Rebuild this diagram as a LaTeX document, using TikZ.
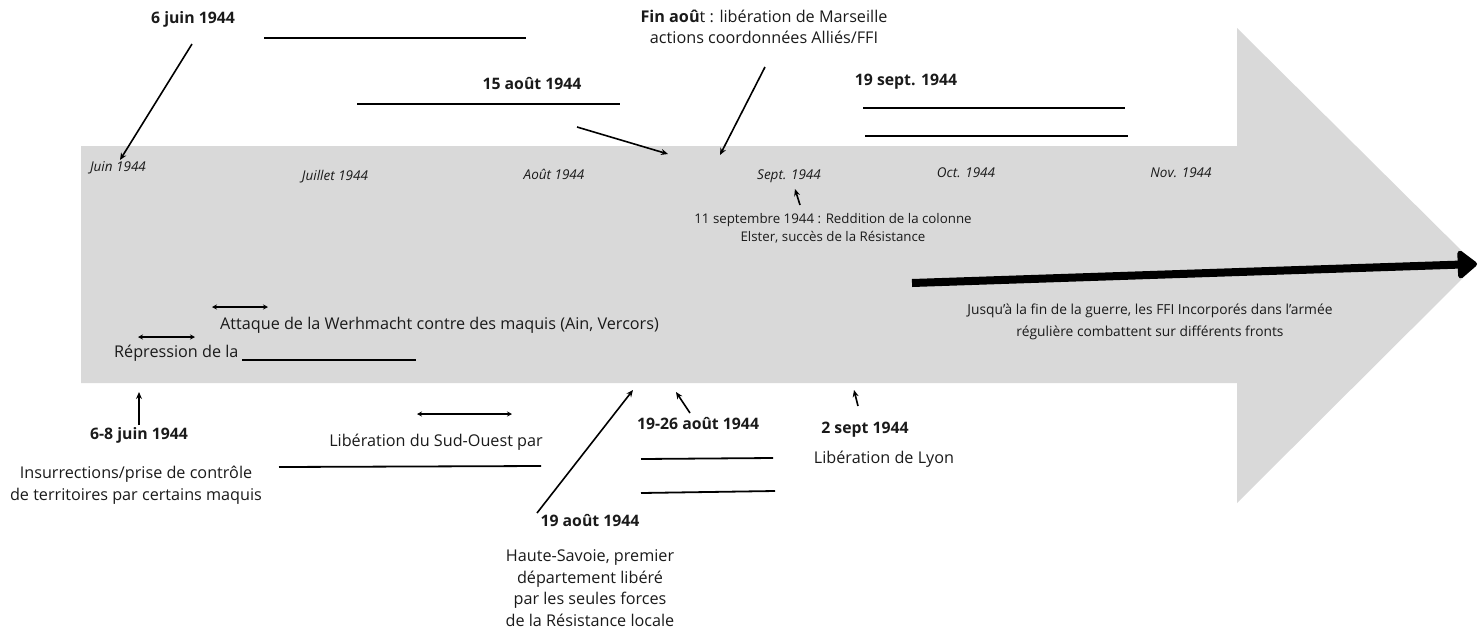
\documentclass[tikz,border=0pt]{standalone}
\usepackage{fontspec}
\setmainfont{Open Sans}
\usetikzlibrary{arrows.meta}
\definecolor{band}{HTML}{D9D9D9}
\definecolor{ink}{HTML}{1A1A1A}
\begin{document}
\begin{tikzpicture}[x=1pt,y=-1pt,
  txt/.style={font=\fontsize{16.2}{21.5}\selectfont, text=ink, inner sep=0pt, align=center},
  wide/.style={font=\fontsize{13.8}{22}\selectfont, text=ink, inner sep=0pt, align=center},
  bld/.style={font=\fontsize{15.8}{21}\selectfont\bfseries, text=ink, inner sep=0pt, align=center},
  mon/.style={font=\fontsize{13.5}{15}\selectfont\itshape, text=ink, inner sep=0pt},
  small/.style={font=\fontsize{13.3}{18}\selectfont, text=ink, inner sep=0pt, align=center},
  blank/.style={line width=1.8pt, draw=black},
  arr/.style={-{Stealth[length=7pt,width=6pt]}, line width=1.6pt, draw=black},
  dbl/.style={{Stealth[length=5pt,width=5pt]}-{Stealth[length=5pt,width=5pt]}, line width=1.4pt, draw=black}]
\useasboundingbox (0,0) rectangle (1484,630);
% big arrow
\coordinate (b1) at (81,146);
\coordinate (b2) at (1237,146);
\coordinate (b3) at (1237,28);
\coordinate (b4) at (1476,265);
\coordinate (b5) at (1237,503);
\coordinate (b6) at (1237,383);
\coordinate (b7) at (81,383);
\fill[band] (b1) -- (b2) -- (b3) -- (b4) -- (b5) -- (b6) -- (b7) -- cycle;

% months
\node[mon] (mjuin) at (118,168) {Juin 1944};
\node[mon] (mjuil) at (335,177) {Juillet 1944};
\node[mon] (maout) at (554,174) {Août 1944};
\node[mon] (msept) at (789,176) {Sept. 1944};
\node[mon] (moct) at (966,173) {Oct. 1944};
\node[mon] (mnov) at (1181,173) {Nov. 1944};

% top labels
\node[bld] (n6juin) at (193,19) {6 juin 1944};
\coordinate (t6juin) at (192,44);
\coordinate (h6juin) at (120,160);
\draw[arr] (t6juin) -- (h6juin);
\coordinate (l1a) at (264,38); \coordinate (l1b) at (526,38);
\draw[blank] (l1a) -- (l1b);

\node[bld] (n15) at (532,84) {15 août 1944};
\coordinate (l2a) at (357,104); \coordinate (l2b) at (620,104);
\draw[blank] (l2a) -- (l2b);
\coordinate (t15) at (577,127); \coordinate (h15) at (668,154);
\draw[arr] (t15) -- (h15);

\node[txt] (nfin) at (764,27) {{\bfseries Fin aoû}t : libération de Marseille\\actions coordonnées Alliés/FFI};
\coordinate (tfin) at (765,67); \coordinate (hfin) at (720,155);
\draw[arr] (tfin) -- (hfin);

\node[bld] (n19s) at (906,82) {19 sept. 1944};
\coordinate (l3a) at (863,108); \coordinate (l3b) at (1125,108);
\coordinate (l4a) at (865,136); \coordinate (l4b) at (1128,136);
\draw[blank] (l3a) -- (l3b);
\draw[blank] (l4a) -- (l4b);

% inside band
\node[small] (n11) at (833,228) {11 septembre 1944 : Reddition de la colonne\\Elster, succès de la Résistance};
\coordinate (t11) at (800,205); \coordinate (h11) at (795,189);
\draw[arr] (t11) -- (h11);

\coordinate (tb) at (912,283); \coordinate (hb) at (1477,264);
\draw[line width=8pt, -{Triangle[round,length=21pt,width=32pt]}] (tb) -- (hb);
\node[wide] (nfin2) at (1150,322) {Jusqu’à la fin de la guerre, les FFI Incorporés dans l’armée\\régulière combattent sur différents fronts};

\coordinate (d1a) at (212,307); \coordinate (d1b) at (268,307);
\draw[dbl] (d1a) -- (d1b);
\node[txt, anchor=west] (natt) at (220,325) {Attaque de la Werhmacht contre des maquis (Ain, Vercors)};
\coordinate (d2a) at (138,337); \coordinate (d2b) at (195,337);
\draw[dbl] (d2a) -- (d2b);
\node[txt, anchor=west] (nrep) at (114,353) {Répression de la};
\coordinate (l5a) at (242,360); \coordinate (l5b) at (416,360);
\draw[blank] (l5a) -- (l5b);

% below band
\node[bld] (n68) at (139,435) {6-8 juin 1944};
\coordinate (t68) at (139,425); \coordinate (h68) at (139,392);
\draw[arr] (t68) -- (h68);
\node[txt] (nins) at (136,485) {Insurrections/prise de contrôle\\de territoires par certains maquis};

\coordinate (d3a) at (417,414); \coordinate (d3b) at (512,414);
\draw[dbl] (d3a) -- (d3b);
\node[txt] (nso) at (436,442) {Libération du Sud-Ouest par};
\coordinate (l6a) at (279,467); \coordinate (l6b) at (541,466);
\draw[blank] (l6a) -- (l6b);

\coordinate (t19a) at (537,513); \coordinate (h19a) at (633,390);
\draw[arr] (t19a) -- (h19a);
\node[bld] (n19a) at (590,521) {19 août 1944};
\node[txt] (nhs) at (590,588) {Haute-Savoie, premier\\département libéré\\par les seules forces\\de la Résistance locale};

\coordinate (t1926) at (690,413); \coordinate (h1926) at (676,392);
\draw[arr] (t1926) -- (h1926);
\node[bld] (n1926) at (698,424) {19-26 août 1944};
\coordinate (l7a) at (641,459); \coordinate (l7b) at (773,458);
\coordinate (l8a) at (641,493); \coordinate (l8b) at (775,491);
\draw[blank] (l7a) -- (l7b);
\draw[blank] (l8a) -- (l8b);

\coordinate (t2s) at (858,406); \coordinate (h2s) at (854,390);
\draw[arr] (t2s) -- (h2s);
\node[bld] (n2s) at (865,430) {2 sept 1944};
\node[txt] (nlyon) at (884,459) {Libération de Lyon};
\end{tikzpicture}
\end{document}
